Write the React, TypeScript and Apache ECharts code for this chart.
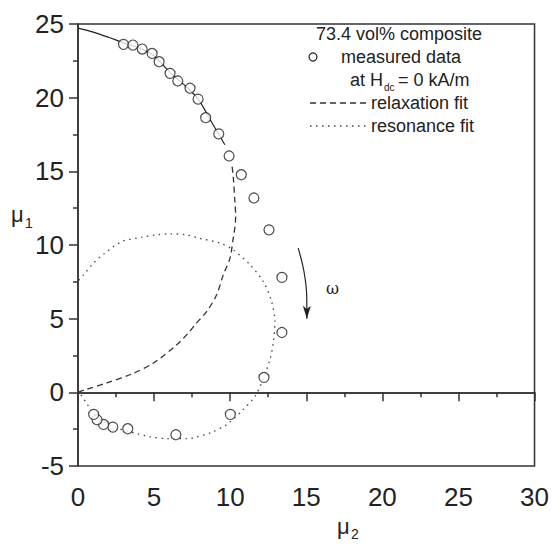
import React, { useEffect, useRef } from "react";
import * as echarts from "echarts";

// measured data (x = mu2, y = mu1)
const measuredX = [2.99, 3.61, 4.22, 4.87, 5.33, 6.05, 6.56, 7.36, 7.89, 8.39, 9.25, 9.93, 10.73, 11.56, 12.55, 13.4, 13.4, 12.22, 10.01, 6.43, 3.27, 2.29, 1.68, 1.25, 1.03];
const measuredY = [23.62, 23.57, 23.3, 23.0, 22.44, 21.65, 21.13, 20.64, 19.9, 18.64, 17.54, 16.04, 14.77, 13.19, 11.03, 7.8, 4.06, 1.01, -1.5, -2.88, -2.47, -2.36, -2.18, -1.86, -1.5];

// solid curve through the high-mu1 data
const solidX = [0, 1, 2, 3, 4, 5, 6, 7, 7.9, 8.8, 9.65];
const solidY = [24.72, 24.45, 24.1, 23.72, 23.38, 22.85, 21.75, 20.85, 19.9, 18.3, 16.8];

// relaxation fit (dashed)
const relaxX = [0, 0.48, 1.9, 3.54, 4.96, 6.49, 7.25, 7.69, 8.46, 9.11, 9.55, 9.99, 10.2, 10.31, 10.36, 10.31, 10.2, 10.1];
const relaxY = [0, 0.18, 0.64, 1.25, 1.99, 3.23, 4.03, 4.59, 5.49, 6.62, 7.98, 9.11, 10.47, 11.2, 11.93, 12.95, 14.64, 15.55];

// resonance fit (dotted)
const resoX = [0.05, 0.37, 1.0, 1.64, 2.89, 4.2, 5.18, 6.05, 7.15, 7.91, 9.33, 10.2, 11.3, 12.17, 12.72, 12.94, 12.83, 12.61, 12.07, 11.63, 10.86, 9.77, 8.79, 7.58, 7.15, 5.84, 4.74, 3.87, 3.3, 2.5, 1.7, 1.0, 0.6, 0.26, 0.05];
const resoY = [7.6, 7.98, 8.75, 9.34, 10.24, 10.53, 10.69, 10.76, 10.69, 10.47, 10.13, 9.67, 8.66, 7.53, 6.17, 4.81, 3.35, 2.22, 0.64, -0.27, -1.17, -2.19, -2.71, -3.09, -3.14, -3.14, -3.02, -2.8, -2.65, -2.4, -2.0, -1.4, -0.8, -0.27, 0.05];

// omega arrow annotation
const arrowX = [14.47, 14.85, 15.03, 15.04];
const arrowY = [9.79, 8.2, 6.5, 5.0];

const xTicks = [0, 5, 10, 15, 20, 25, 30];
const yTicks = [-5, 0, 5, 10, 15, 20, 25];

const FONT = "'Liberation Sans', Arial, Helvetica, sans-serif";
const INK = "#222";

const zip = (xs: number[], ys: number[]) => xs.map((x, i) => [x, ys[i]]);

export default function App() {
  const ref = useRef<HTMLDivElement>(null);
  useEffect(() => {
    if (!ref.current) return;
    const chart = echarts.init(ref.current, null, { renderer: "svg" });
    const arrowData: any[] = zip(arrowX, arrowY);
    arrowData[arrowData.length - 1] = {
      value: arrowData[arrowData.length - 1],
      symbol: "arrow",
      symbolSize: [6, 13],
      symbolRotate: 180,
      itemStyle: { color: INK },
    };
    const legendText = (x: number, y: number, text: string, size = 18) => ({
      type: "text",
      x,
      y,
      style: { text, fontSize: size, fontFamily: FONT, fill: INK, verticalAlign: "middle" },
    });
    chart.setOption({
      animation: false,
      backgroundColor: "#fff",
      grid: { left: 78, right: 17, top: 24, bottom: 78, show: true, borderColor: "#333", borderWidth: 1.5, backgroundColor: "transparent" },
      xAxis: {
        type: "value",
        min: xTicks[0],
        max: xTicks[xTicks.length - 1],
        interval: 5,
        axisLine: { show: true, lineStyle: { color: "#333", width: 1.5 } },
        axisTick: { show: true, length: 9, lineStyle: { color: "#333", width: 1.5 } },
        minorTick: { show: true, splitNumber: 2, length: 5, lineStyle: { color: "#333", width: 1.5 } },
        splitLine: { show: false },
        axisLabel: { fontSize: 26, fontFamily: FONT, color: INK, margin: 18 },
      },
      yAxis: {
        type: "value",
        min: yTicks[0],
        max: yTicks[yTicks.length - 1],
        interval: 5,
        axisLine: { show: true, lineStyle: { color: "#333", width: 1.5 } },
        axisTick: { show: true, length: 9, lineStyle: { color: "#333", width: 1.5 } },
        minorTick: { show: true, splitNumber: 2, length: 5, lineStyle: { color: "#333", width: 1.5 } },
        splitLine: { show: false },
        axisLabel: { fontSize: 26, fontFamily: FONT, color: INK, margin: 14 },
      },
      series: [
        {
          type: "line",
          data: zip(solidX, solidY),
          showSymbol: false,
          smooth: 0.3,
          lineStyle: { color: INK, width: 1.2 },
          markLine: {
            silent: true,
            symbol: ["none", "none"],
            label: { show: false },
            lineStyle: { color: "#333", width: 1.5, type: "solid" },
            data: [{ yAxis: 0 }],
          },
        },
        {
          type: "line",
          data: zip(relaxX, relaxY),
          showSymbol: false,
          smooth: 0.3,
          lineStyle: { color: "#333", width: 1.3, type: [6, 4] },
        },
        {
          type: "line",
          data: zip(resoX, resoY),
          showSymbol: false,
          smooth: 0.3,
          lineStyle: { color: "#444", width: 1.3, type: [1.5, 4.5] },
        },
        {
          type: "scatter",
          data: zip(measuredX, measuredY),
          symbol: "circle",
          symbolSize: 10,
          itemStyle: { color: "#fff", borderColor: INK, borderWidth: 1.2 },
          z: 5,
        },
        {
          type: "line",
          data: arrowData,
          smooth: 0.4,
          symbol: "none",
          showAllSymbol: true,
          lineStyle: { color: INK, width: 1.2 },
        },
      ],
      graphic: [
        legendText(316, 34, "73.4 vol% composite"),
        { type: "circle", shape: { cx: 313, cy: 57, r: 4 }, style: { fill: "#fff", stroke: INK, lineWidth: 1.2 } },
        legendText(341, 57, "measured data"),
        legendText(350, 80, "at H"),
        legendText(384, 87, "dc", 10),
        legendText(398, 80, "= 0 kA/m"),
        { type: "line", shape: { x1: 310, y1: 103, x2: 368, y2: 103 }, style: { stroke: "#333", lineWidth: 1.3, lineDash: [6, 4] } },
        legendText(371, 103, "relaxation fit"),
        { type: "line", shape: { x1: 310, y1: 126, x2: 368, y2: 126 }, style: { stroke: "#444", lineWidth: 1.3, lineDash: [1.5, 4.5] } },
        legendText(371, 126, "resonance fit"),
        { type: "text", x: 326, y: 288, style: { text: "ω", fontSize: 16, fontFamily: "'DejaVu Serif', serif", fill: INK, verticalAlign: "middle" } },
        { type: "text", x: 11, y: 214, style: { text: "μ", fontSize: 22, fontFamily: FONT, fill: INK, verticalAlign: "middle" } },
        { type: "text", x: 25, y: 223, style: { text: "1", fontSize: 14, fontFamily: FONT, fill: INK, verticalAlign: "middle" } },
        { type: "text", x: 337, y: 526, style: { text: "μ", fontSize: 22, fontFamily: FONT, fill: INK, verticalAlign: "middle" } },
        { type: "text", x: 351, y: 534, style: { text: "2", fontSize: 14, fontFamily: FONT, fill: INK, verticalAlign: "middle" } },
      ],
    });
    return () => chart.dispose();
  }, []);
  return <div ref={ref} style={{ position: "fixed", left: 0, top: 0, width: 552, height: 544 }} />;
}
